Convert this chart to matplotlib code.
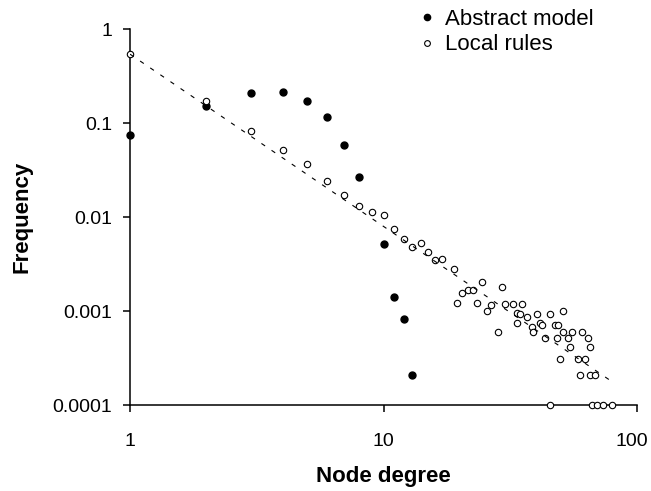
#!/usr/bin/env python3

# ========================================================================
#
# Imports
#
# ========================================================================
import numpy as np
import matplotlib as mpl
mpl.use('Agg')
import matplotlib.pyplot as plt
import matplotlib.transforms as mtransforms


# ========================================================================
#
# Data
#
# ========================================================================
abstract_deg = [1, 2, 3, 4, 5, 6, 7, 8, 10, 11, 12, 13]
abstract_freq = [0.074, 0.15, 0.21, 0.215, 0.17, 0.115, 0.059, 0.0266,
                 0.0051, 0.00142, 0.00083, 0.00021]

local_deg = [1, 2, 3, 4, 5, 6, 7, 8, 9, 10, 11, 12, 13, 14, 15, 16, 17,
             19.0, 19.5, 20.4, 21.5, 22.6, 24.5, 23.4, 25.6, 26.5, 29.3,
             28.3, 30.2, 32.4, 35.2, 33.6, 34.5, 36.8, 40.3, 45.4, 51.1,
             33.6, 38.5, 41.4, 42.2, 47.5, 49.0, 38.9, 43.4, 48.3, 51.1,
             55.4, 60.7, 53.5, 64.1, 54.4, 65.3, 49.7, 58.5, 62.4, 59.6,
             65.3, 68.3,
             45.4, 66.4, 69.5, 73.4, 79.6]
local_freq = [0.54, 0.17, 0.082, 0.051, 0.037, 0.024, 0.017, 0.013, 0.0112,
              0.0104, 0.0075, 0.0059, 0.0048, 0.0053, 0.0042, 0.0035, 0.0036,
              0.0028, 0.00122, 0.00157, 0.00169, 0.00169, 0.00203, 0.00122,
              0.00099, 0.00117, 0.00181, 0.00060, 0.00120, 0.00120, 0.00120,
              0.00096, 0.00092, 0.00087, 0.00092, 0.00092, 0.00099,
              0.00074, 0.00068, 0.00074, 0.00071, 0.00071, 0.00071,
              0.00060, 0.00052, 0.00052, 0.00060, 0.00060, 0.00060,
              0.00052, 0.00052, 0.00041, 0.00041, 0.00031, 0.00031,
              0.00031, 0.00021, 0.00021, 0.00021,
              0.0001, 0.0001, 0.0001, 0.0001, 0.0001]

# power law trend line end points
trend_deg = [1, 80]
trend_freq = [0.54, 0.000176]

xticks = [1, 10, 100]
xticklabels = ['1', '10', '100']
yticks = [1e-4, 1e-3, 1e-2, 1e-1, 1]
yticklabels = ['0.0001', '0.001', '0.01', '0.1', '1']


# ========================================================================
#
# Main
#
# ========================================================================
if __name__ == '__main__':

    plt.rc('font', family='Liberation Sans')

    fig = plt.figure(figsize=(6.51, 4.91), dpi=100)
    ax = fig.add_axes([130 / 651, 86 / 491, 507 / 651, 376 / 491])

    ax.plot(abstract_deg, abstract_freq, ls='none', marker='o', ms=5,
            mfc='black', mec='black', clip_on=False, zorder=3,
            label='Abstract model')
    ax.plot(local_deg, local_freq, ls='none', marker='o', ms=4.6,
            mfc='white', mec='black', mew=0.8, clip_on=False, zorder=4,
            label='Local rules')
    ax.plot(trend_deg, trend_freq, color='black', lw=0.8,
            ls=(0, (4, 7)), zorder=5)

    # ======================================================================
    # Format the plot
    ax.set_xscale('log')
    ax.set_yscale('log')
    ax.set_xlim(1, 100)
    ax.set_ylim(1e-4, 1)
    ax.set_xticks(xticks)
    ax.set_xticklabels(xticklabels)
    ax.set_yticks(yticks)
    ax.set_yticklabels(yticklabels)
    ax.minorticks_off()
    for s in ['top', 'right']:
        ax.spines[s].set_visible(False)
    for s in ['left', 'bottom']:
        ax.spines[s].set_linewidth(1.1)
    ax.tick_params(axis='both', direction='out', length=5, width=1.1,
                   labelsize=14)
    ax.tick_params(axis='x', pad=15)
    ax.tick_params(axis='y', pad=8)

    # keep the last x label inside the figure
    lab = ax.get_xticklabels()[-1]
    shift = mtransforms.ScaledTranslation(-5 / 100, 0, fig.dpi_scale_trans)
    lab.set_transform(lab.get_transform() + shift)

    ax.set_xlabel('Node degree', fontsize=16, fontweight='bold', labelpad=12)
    ax.set_ylabel('Frequency', fontsize=16, fontweight='bold', labelpad=14)

    ax.legend(loc='upper left', bbox_to_anchor=(418 / 651, 1 - 9 / 491),
              bbox_transform=fig.transFigure, frameon=False, fontsize=16,
              handlelength=0.8, handletextpad=0.4, labelspacing=0.2,
              borderpad=0, borderaxespad=0, markerscale=0.9)

    plt.savefig('out.png', format='png', dpi=100)
